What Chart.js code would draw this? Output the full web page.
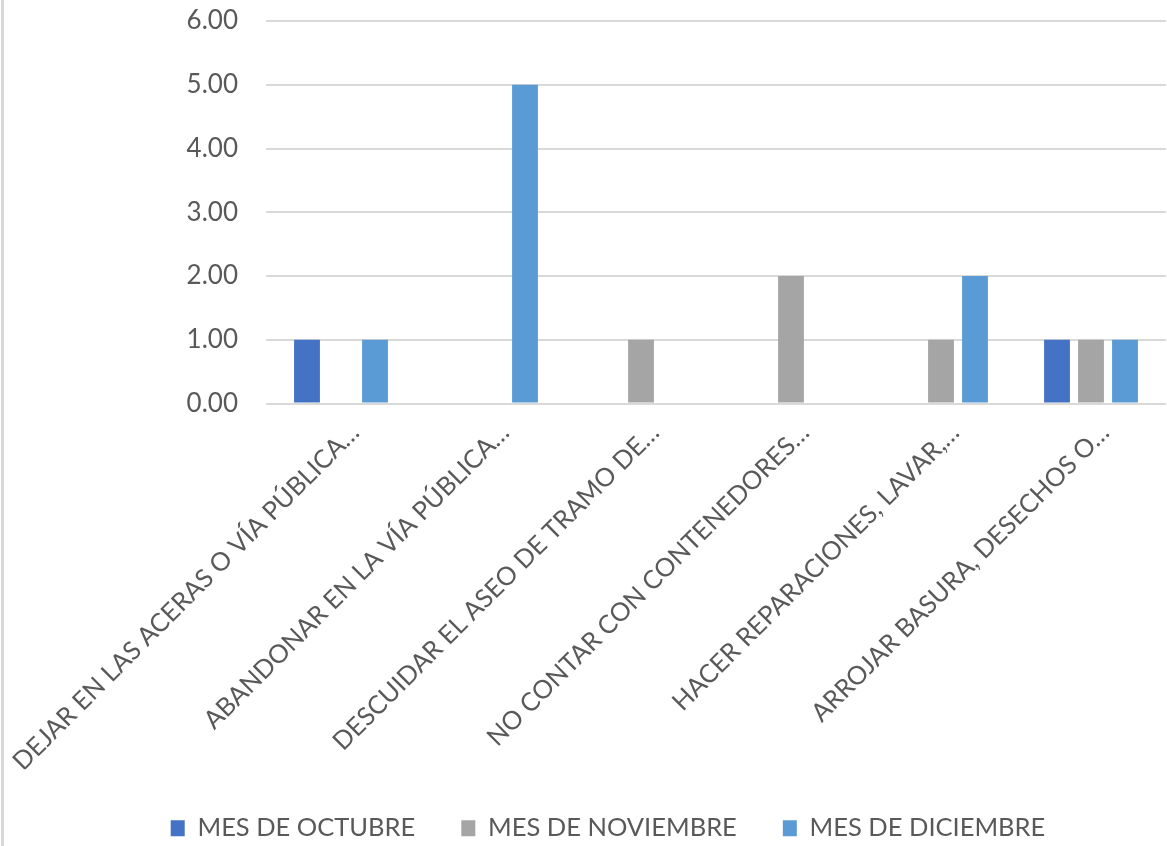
<!DOCTYPE html>
<html>
<head>
<meta charset="utf-8">
<script src="https://cdn.jsdelivr.net/npm/chart.js@4/dist/chart.umd.min.js"></script>
<style>
  html, body { margin: 0; padding: 0; background: #ffffff; }
  #wrap { position: relative; width: 1167px; height: 846px; overflow: hidden; }
  #frame { position: absolute; left: 1px; top: 0; width: 3px; height: 846px; background: #d9d9d9; }
  canvas { position: absolute; left: 0; top: 0; }
</style>
</head>
<body>
<div id="wrap">
  <canvas id="c" width="1167" height="846"></canvas>
  <div id="frame"></div>
</div>
<script>
const categories = [
  "DEJAR EN LAS ACERAS O VÍA PÚBLICA…",
  "ABANDONAR EN LA VÍA PÚBLICA…",
  "DESCUIDAR EL ASEO DE TRAMO DE…",
  "NO CONTAR CON CONTENEDORES…",
  "HACER REPARACIONES, LAVAR,…",
  "ARROJAR BASURA, DESECHOS O…"
];
const seriesNames = ["MES DE OCTUBRE", "MES DE NOVIEMBRE", "MES DE DICIEMBRE"];
const octubre = [1, 0, 0, 0, 0, 1];
const noviembre = [0, 0, 1, 2, 1, 1];
const diciembre = [1, 5, 0, 0, 2, 1];
const yTicks = [0, 1, 2, 3, 4, 5, 6];

const FONT = "Lato";
const TXT = "#595959";

new Chart(document.getElementById("c"), {
  type: "bar",
  data: {
    labels: categories,
    datasets: [
      { label: seriesNames[0], data: octubre, backgroundColor: "#4472C4" },
      { label: seriesNames[1], data: noviembre, backgroundColor: "#A5A5A5" },
      { label: seriesNames[2], data: diciembre, backgroundColor: "#5B9BD5" }
    ]
  },
  options: {
    responsive: false,
    animation: false,
    devicePixelRatio: 1,
    layout: { padding: { left: 50, right: 1, top: 21, bottom: -5 } },
    datasets: { bar: { categoryPercentage: 0.68, barPercentage: 0.76 } },
    scales: {
      x: {
        grid: { display: false, drawTicks: false },
        border: { display: false },
        afterFit: s => { s.paddingLeft = 0; s.paddingRight = 0; s.height = 366; },
        ticks: {
          autoSkip: false, maxRotation: 45, minRotation: 45, labelOffset: 14,
          color: TXT, font: { family: FONT, size: 25.5 }, padding: 14
        }
      },
      y: {
        min: 0, max: 6,
        afterBuildTicks: s => { s.ticks = yTicks.map(v => ({ value: v })); },
        afterFit: s => { s.width = 216; s.paddingTop = 0; s.paddingBottom = 0; },
        grid: { color: "#d9d9d9", lineWidth: 2, drawTicks: false },
        border: { display: false },
        ticks: {
          color: TXT, font: { family: FONT, size: 26 }, padding: 28,
          callback: v => Number(v).toFixed(2)
        }
      }
    },
    plugins: {
      tooltip: { enabled: false },
      legend: {
        position: "bottom",
        labels: {
          color: TXT, font: { family: FONT, size: 25.5 },
          boxWidth: 14, boxHeight: 16, padding: 46, useBorderRadius: false
        }
      }
    }
  }
});
</script>
</body>
</html>
